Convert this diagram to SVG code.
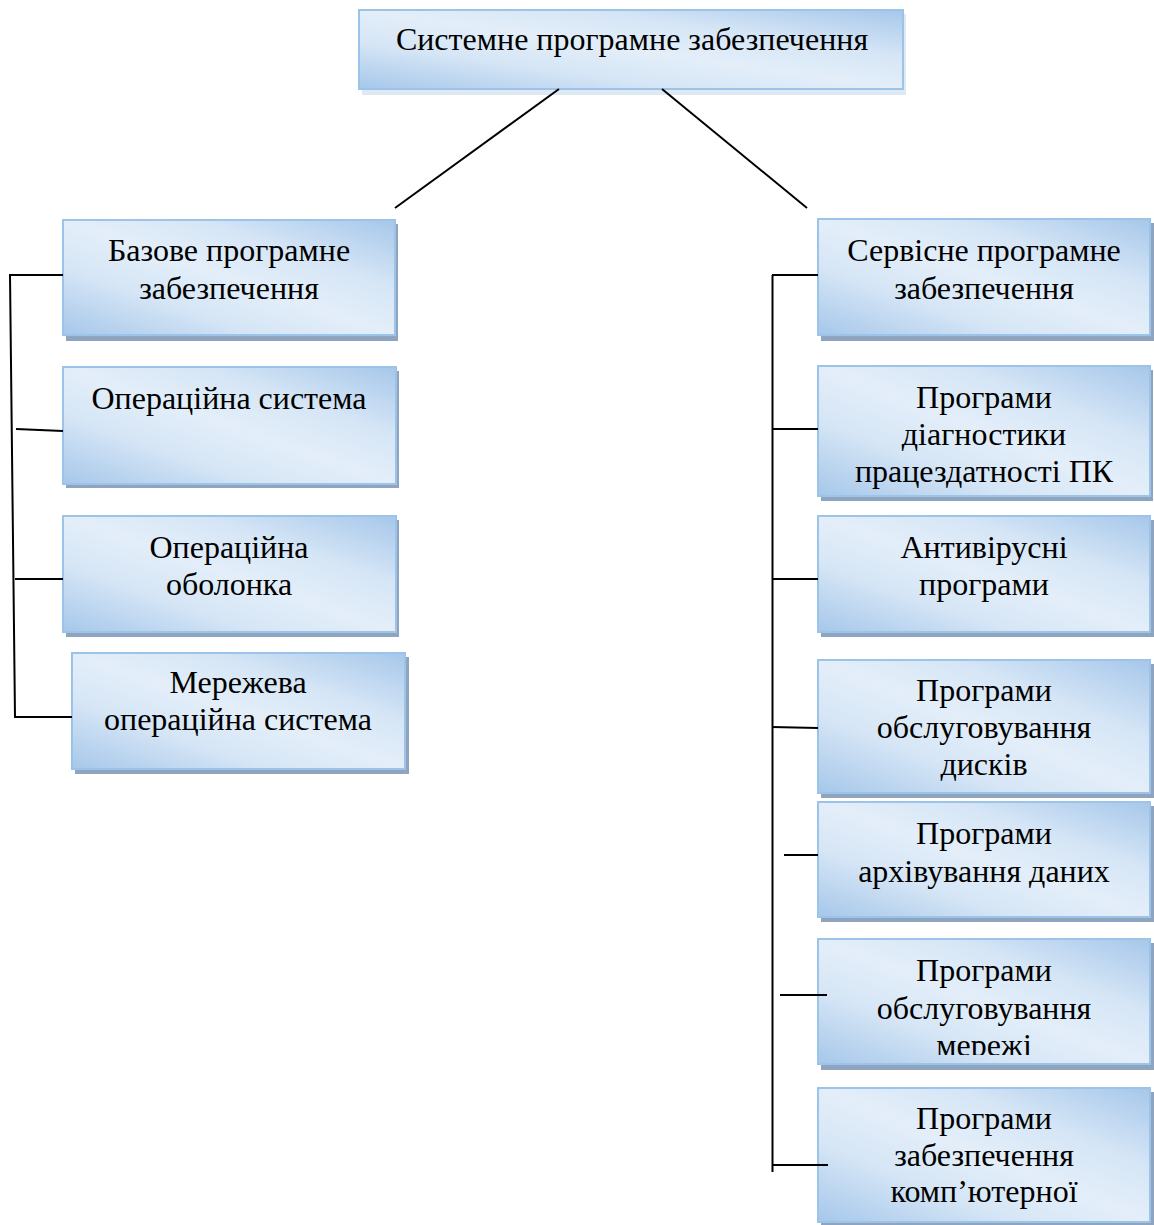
<svg xmlns="http://www.w3.org/2000/svg" width="1154" height="1225" viewBox="0 0 1154 1225">
<defs>
<linearGradient id="g" x1="0" y1="1" x2="1" y2="0">
<stop offset="0" stop-color="#a6c7ea"/>
<stop offset="0.3" stop-color="#d6e6f6"/>
<stop offset="0.5" stop-color="#e3eef9"/>
<stop offset="0.7" stop-color="#d6e6f6"/>
<stop offset="1" stop-color="#a6c7ea"/>
</linearGradient>
<clipPath id="clipM"><rect x="818" y="939" width="332" height="116"/></clipPath>
</defs>
<style>
.sh{fill:#8fa5bf}
.bx{fill:url(#g);stroke:#9cc3e8;stroke-width:2}
.t{font-family:"Liberation Serif","Times New Roman",serif;font-size:32px;fill:#000;text-anchor:middle}
.c{stroke:#000;stroke-width:2;fill:none}
</style>
<rect width="1154" height="1225" fill="#fff"/>
<g id="n0">
<rect x="362" y="14" width="544" height="81" fill="#dfe9f4"/>
<rect class="bx" x="359" y="10" width="544" height="79"/>
<text class="t" x="632" y="50">Системне програмне забезпечення</text>
</g>
<g id="n1">
<rect class="sh" x="66" y="224" width="332" height="117"/>
<rect class="bx" x="63" y="220" width="332" height="115"/>
<text class="t" x="229" y="261">Базове програмне</text>
<text class="t" x="229" y="299">забезпечення</text>
</g>
<g id="n2">
<rect class="sh" x="66" y="371" width="333" height="117"/>
<rect class="bx" x="63" y="367" width="333" height="117"/>
<text class="t" x="229" y="409">Операційна система</text>
</g>
<g id="n3">
<rect class="sh" x="66" y="520" width="333" height="117"/>
<rect class="bx" x="63" y="516" width="333" height="116"/>
<text class="t" x="229" y="558">Операційна</text>
<text class="t" x="229" y="595">оболонка</text>
</g>
<g id="n4">
<rect class="sh" x="75" y="657" width="334" height="117"/>
<rect class="bx" x="72" y="653" width="333" height="116"/>
<text class="t" x="238" y="693">Мережева</text>
<text class="t" x="238" y="730">операційна система</text>
</g>
<g id="n5">
<rect class="sh" x="821" y="223" width="333" height="118"/>
<rect class="bx" x="818" y="219" width="332" height="116"/>
<text class="t" x="984" y="261">Сервісне програмне</text>
<text class="t" x="984" y="299">забезпечення</text>
</g>
<g id="n6">
<rect class="sh" x="821" y="370" width="332" height="131"/>
<rect class="bx" x="818" y="366" width="332" height="130"/>
<text class="t" x="984" y="408">Програми</text>
<text class="t" x="984" y="445">діагностики</text>
<text class="t" x="984" y="482">працездатності ПК</text>
</g>
<g id="n7">
<rect class="sh" x="821" y="520" width="333" height="117"/>
<rect class="bx" x="818" y="516" width="332" height="116"/>
<text class="t" x="984" y="558">Антивірусні</text>
<text class="t" x="984" y="595">програми</text>
</g>
<g id="n8">
<rect class="sh" x="821" y="664" width="333" height="134"/>
<rect class="bx" x="818" y="660" width="332" height="133"/>
<text class="t" x="984" y="701">Програми</text>
<text class="t" x="984" y="738">обслуговування</text>
<text class="t" x="984" y="775">дисків</text>
</g>
<g id="n9">
<rect class="sh" x="821" y="806" width="333" height="116"/>
<rect class="bx" x="818" y="802" width="332" height="115"/>
<text class="t" x="984" y="844">Програми</text>
<text class="t" x="984" y="882">архівування даних</text>
</g>
<g id="n10">
<rect class="sh" x="821" y="943" width="333" height="127"/>
<rect class="bx" x="818" y="939" width="332" height="125"/>
<g clip-path="url(#clipM)">
<text class="t" x="984" y="981">Програми</text>
<text class="t" x="984" y="1019">обслуговування</text>
<text class="t" x="984" y="1056">мережі</text>
</g>
</g>
<g id="n11">
<rect class="sh" x="821" y="1092" width="333" height="133"/>
<rect class="bx" x="818" y="1088" width="332" height="134"/>
<text class="t" x="984" y="1129">Програми</text>
<text class="t" x="984" y="1166">забезпечення</text>
<text class="t" x="984" y="1202">комп’ютерної</text>
</g>
<g id="connectors">
<line class="c" x1="559" y1="89" x2="395" y2="208"/>
<line class="c" x1="662" y1="89" x2="807" y2="208"/>
<polyline class="c" points="63,275 10,275 15,717 72,717"/>
<line class="c" x1="16" y1="429" x2="63" y2="431"/>
<line class="c" x1="15" y1="579" x2="63" y2="579"/>
<line class="c" x1="772.5" y1="275" x2="772.5" y2="1172"/>
<line class="c" x1="772" y1="275" x2="818" y2="275"/>
<line class="c" x1="772" y1="429" x2="818" y2="429"/>
<line class="c" x1="772" y1="579" x2="818" y2="579"/>
<line class="c" x1="772" y1="727" x2="818" y2="728"/>
<line class="c" x1="784" y1="855" x2="818" y2="855"/>
<line class="c" x1="780" y1="995" x2="827" y2="995"/>
<line class="c" x1="772" y1="1165" x2="828" y2="1165"/>
</g>
</svg>
